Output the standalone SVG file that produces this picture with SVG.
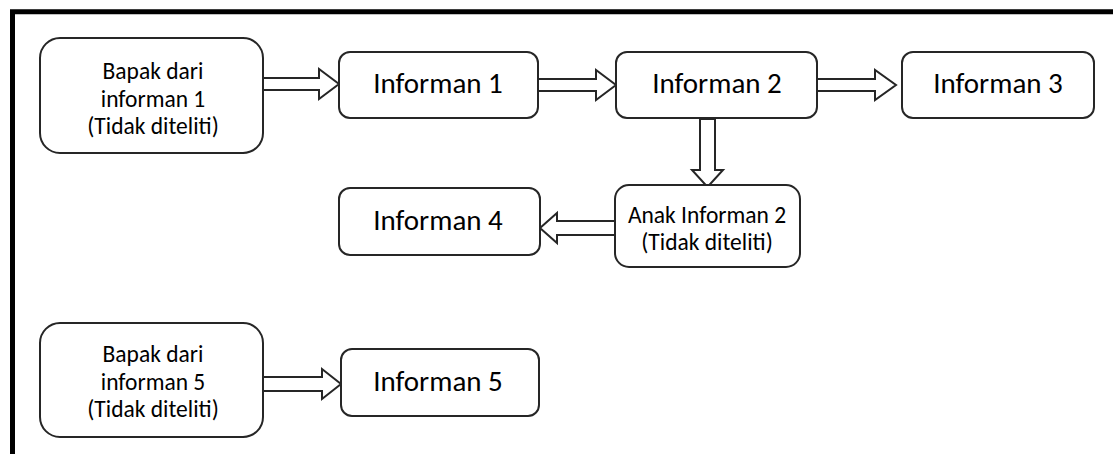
<svg xmlns="http://www.w3.org/2000/svg" width="1113" height="454" viewBox="0 0 1113 454">
<style>
.box{fill:#fff;stroke:#262626;stroke-width:2}
.arr{fill:#fff;stroke:#262626;stroke-width:2;stroke-linejoin:miter}
.big{font-family:Carlito,Lato,"Open Sans",sans-serif;font-size:29px;fill:#000;text-anchor:middle}
.sm{font-family:Carlito,Lato,"Open Sans",sans-serif;font-size:23.5px;fill:#000;text-anchor:middle}
</style>
<rect width="1113" height="454" fill="#fff"/>
<path d="M12.5,454 V11.7 H1113" fill="none" stroke="#000" stroke-width="5" stroke-linejoin="miter"/>
<g id="connectors">
<path class="arr" d="M263,78 H319 V69 L339,84 L319,99 V90 H263 Z"/>
<path class="arr" d="M538,79 H596 V70 L616,85 L596,100 V91 H538 Z"/>
<path class="arr" d="M817,79 H875 V70 L896,85 L875,100 V91 H817 Z"/>
<path class="arr" d="M700,119 V170 H692 L707.5,187 L723,170 H715 V119 Z"/>
<path class="arr" d="M615,221 H557 V213 L540,228 L557,243 V235 H615 Z"/>
<path class="arr" d="M263,377 H322 V369 L341,384 L322,399 V391 H263 Z"/>
</g>
<g id="bapak1">
<rect class="box" x="40" y="38" width="223" height="115" rx="20"/>
<text class="sm" x="153" y="79">Bapak dari</text>
<text class="sm" x="153" y="107">informan 1</text>
<text class="sm" x="153" y="134">(Tidak diteliti)</text>
</g>
<g id="informan1">
<rect class="box" x="339" y="52" width="199" height="66" rx="11"/>
<text class="big" x="438" y="93">Informan 1</text>
</g>
<g id="informan2">
<rect class="box" x="616" y="52" width="201" height="66" rx="11"/>
<text class="big" x="717" y="93">Informan 2</text>
</g>
<g id="informan3">
<rect class="box" x="902" y="52" width="192" height="66" rx="11"/>
<text class="big" x="998" y="93">Informan 3</text>
</g>
<g id="anak2">
<rect class="box" x="615" y="185" width="185" height="82" rx="14"/>
<text class="sm" x="707" y="223">Anak Informan 2</text>
<text class="sm" x="707" y="250">(Tidak diteliti)</text>
</g>
<g id="informan4">
<rect class="box" x="339" y="188" width="201" height="67" rx="11"/>
<text class="big" x="438" y="230">Informan 4</text>
</g>
<g id="bapak5">
<rect class="box" x="40" y="323" width="223" height="114" rx="20"/>
<text class="sm" x="153" y="362">Bapak dari</text>
<text class="sm" x="153" y="390">informan 5</text>
<text class="sm" x="153" y="417">(Tidak diteliti)</text>
</g>
<g id="informan5">
<rect class="box" x="341" y="349" width="198" height="67" rx="11"/>
<text class="big" x="438" y="391">Informan 5</text>
</g>
</svg>
